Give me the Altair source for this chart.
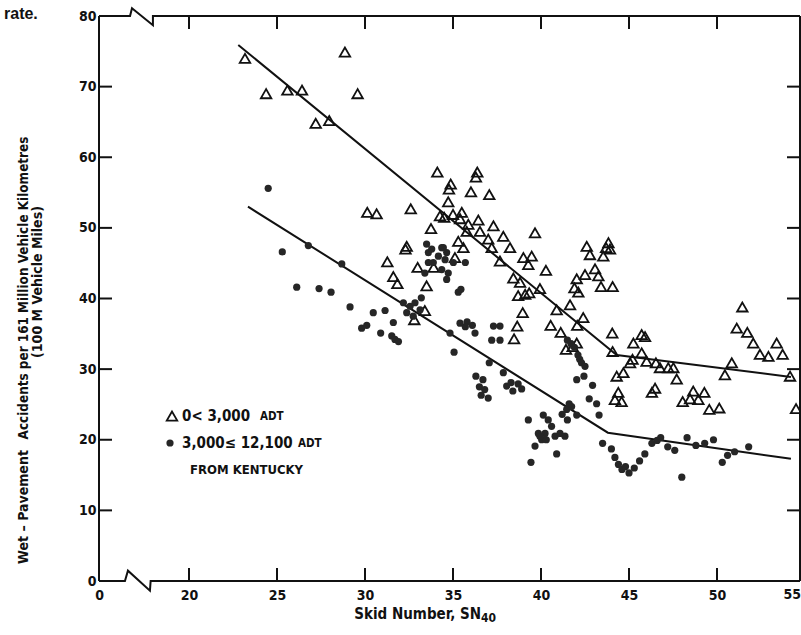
import altair as alt
import pandas as pd

FONT = "DejaVu Sans Condensed, DejaVu Sans, sans-serif"
INK = "#111111"

# Broken x axis: the left edge carries the "0" label, the right edge "55"
X_MIN, X_MAX = 14.886, 54.716
Y_MIN, Y_MAX = 0, 80
X_TICKS = [20, 25, 30, 35, 40, 45, 50]
Y_TICKS = [10, 20, 30, 40, 50, 60, 70]
Y_LABELS = [0, 10, 20, 30, 40, 50, 60, 70, 80]

# 0 < ADT < 3,000 sites (open triangles)
tri_x = [23.18, 28.86, 24.38, 25.59, 26.42, 29.58, 27.2, 27.97,
         34.11, 36.38, 36.3, 34.87, 34.77, 36.02, 37.06,
         30.13, 30.66, 32.6, 34.73, 34.26, 34.5, 35.0, 35.5, 35.4, 35.87, 36.44,
         35.78, 36.53, 37.0, 37.3, 33.75, 35.3, 35.59, 35.11, 32.37, 32.3, 31.27,
         32.99, 33.9, 31.61, 31.84, 33.5, 33.4, 37.2,
         37.86, 38.24, 37.67, 39.66, 39.0, 39.47, 39.28, 40.28, 38.43, 38.81, 38.7,
         39.1, 39.33, 39.94, 38.96, 38.65, 38.47, 40.55, 41.12, 40.89, 41.65, 42.4,
         42.06, 41.42, 41.8, 42.03, 42.6, 42.78, 43.83, 43.7, 43.92, 43.54, 43.07,
         42.5, 42.03, 43.26, 44.07, 43.41, 41.9, 42.12, 44.05, 44.07, 45.25, 45.72,
         45.91, 45.72, 46.0, 45.06, 45.2, 44.68, 44.3, 46.53, 46.76, 47.23, 47.52,
         47.71, 44.39, 44.2, 44.58, 46.48, 46.3, 48.65, 48.05, 48.47, 48.94, 49.28,
         49.56, 50.13, 50.84, 50.45, 51.44, 51.12, 51.72, 52.06, 52.44, 52.92, 53.73,
         53.39, 54.15, 54.49, 32.8]
tri_y = [74.0, 74.9, 69.0, 69.5, 69.5, 69.0, 64.8, 65.2,
         57.9, 57.9, 57.2, 56.2, 55.5, 55.1, 54.7,
         52.2, 52.0, 52.7, 53.7, 51.7, 51.5, 51.9, 52.2, 51.3, 50.5, 51.1,
         49.5, 49.5, 48.4, 50.3, 49.9, 48.1, 47.2, 45.8, 47.4, 47.0, 45.2,
         44.4, 44.4, 43.1, 42.1, 41.8, 38.3, 47.2,
         48.8, 47.2, 45.3, 49.3, 45.8, 46.0, 44.8, 44.0, 42.9, 42.3, 40.4,
         40.6, 40.8, 41.4, 38.0, 36.1, 34.3, 36.2, 35.2, 38.4, 39.1, 37.3,
         36.2, 32.8, 33.2, 33.7, 47.4, 46.2, 47.9, 47.2, 47.0, 46.0, 44.2,
         43.4, 42.8, 43.2, 41.7, 41.7, 41.5, 40.9, 35.1, 32.5, 33.7, 34.9,
         34.6, 32.3, 31.1, 30.9, 31.4, 29.5, 29.0, 30.9, 30.2, 30.2, 30.2,
         28.6, 26.7, 25.7, 25.4, 27.3, 26.7, 26.9, 25.4, 25.8, 25.7, 26.7,
         24.3, 24.5, 30.9, 29.2, 38.8, 35.8, 35.2, 33.7, 32.1, 31.8, 32.1,
         33.7, 29.0, 24.4, 37.0]

# 3,000 <= ADT <= 12,100 sites (filled circles)
dot_x = [24.5, 25.3, 26.78, 28.68, 26.12, 27.39, 28.07, 29.15, 30.47, 31.14,
         33.5, 33.6, 33.79, 34.36, 34.17, 34.55, 33.88, 34.36, 34.73, 33.4, 33.6,
         34.64, 34.45, 34.64, 35.02, 35.7, 35.3, 35.45, 33.2,
         32.18, 32.56, 32.84, 32.37, 32.74, 33.13,
         37.3, 37.67, 37.2, 37.67, 36.25, 35.4, 35.8, 36.1, 35.7, 34.83, 35.06,
         37.06, 37.86, 36.3, 36.7, 36.5, 36.8, 36.6, 37.0,
         38.05, 38.3, 38.7, 38.4, 38.9, 39.28,
         40.13, 40.41, 40.6, 39.85, 40.04, 39.66, 40.3, 40.8, 41.08, 41.36, 40.23,
         39.94, 40.89, 39.43,
         41.46, 41.74, 42.03, 41.2, 41.6, 41.5,
         41.5, 41.7, 41.9, 42.1, 42.2, 42.3, 42.5,
         42.03, 42.44, 42.93, 42.74, 43.16, 43.3,
         31.61, 29.81, 30.1, 30.89, 31.52, 31.7, 31.9,
         43.5, 44.0, 44.2, 44.4, 44.6, 44.8, 45.0, 45.3, 45.6, 45.9, 46.3, 46.6,
         46.8, 47.2, 47.6, 48.0, 48.3, 48.8, 49.3, 49.8, 50.3, 50.6, 51.0, 51.8]
dot_y = [55.6, 46.6, 47.5, 44.9, 41.6, 41.4, 40.9, 38.8, 38.0, 38.3,
         47.7, 46.5, 47.0, 47.2, 46.0, 45.5, 45.1, 44.1, 43.6, 43.6, 45.1,
         46.5, 47.2, 42.7, 45.1, 45.1, 40.9, 41.3, 40.1,
         39.4, 38.9, 39.4, 38.0, 37.5, 38.4,
         36.1, 36.1, 34.1, 34.1, 35.1, 36.5, 36.7, 36.2, 36.0, 35.1, 32.4,
         30.9, 29.5, 29.0, 28.5, 27.5, 27.1, 26.3, 25.9,
         27.6, 28.1, 27.9, 26.9, 27.2, 22.8,
         23.5, 22.8, 21.9, 20.9, 20.0, 19.1, 20.0, 20.5, 20.9, 20.5, 20.9,
         20.5, 18.0, 16.8,
         24.3, 24.7, 23.5, 23.6, 25.1, 22.8,
         34.1, 33.6, 33.1, 32.0, 31.4, 30.9, 30.4,
         28.5, 29.0, 27.7, 25.8, 25.1, 23.5,
         36.6, 35.8, 36.2, 35.1, 34.7, 34.2, 33.9,
         19.5, 18.7, 17.5, 16.5, 15.8, 16.2, 15.3, 16.0, 17.0, 18.0, 19.5, 19.9,
         20.3, 19.0, 18.5, 14.7, 20.3, 19.2, 19.5, 20.0, 16.8, 17.8, 18.3, 19.0]

# Fitted broken-line trends for each traffic group
upper_x = [22.8, 44.3, 54.2]
upper_y = [75.9, 32.0, 28.9]
lower_x = [23.35, 43.8, 54.2]
lower_y = [53.0, 21.0, 17.3]

# Frame with the zig-zag axis breaks between 0 and 20
bottom_x = [X_MIN, 16.36, 16.53, 17.78, 17.82, X_MAX]
bottom_y = [0, 0, 1.46, -1.38, 0, 0]
top_x = [X_MIN, 16.65, 16.76, 17.95, 17.95, X_MAX]
top_y = [80, 80, 81.1, 78.7, 80, 80]
side_x = [X_MIN, X_MIN, X_MAX, X_MAX]
side_y = [0, 80, 0, 80]
side_id = ["left", "left", "right", "right"]

W, H = 701, 565

tri_df = pd.DataFrame({"x": tri_x, "y": tri_y})
dot_df = pd.DataFrame({"x": dot_x, "y": dot_y})
fit_df = pd.DataFrame({
    "x": upper_x + lower_x,
    "y": upper_y + lower_y,
    "grp": ["low"] * len(upper_x) + ["high"] * len(lower_x),
    "o": list(range(len(upper_x))) + list(range(len(lower_x))),
})
frame_df = pd.DataFrame({
    "x": bottom_x + top_x + side_x,
    "y": bottom_y + top_y + side_y,
    "seg": ["bottom"] * len(bottom_x) + ["top"] * len(top_x) + side_id,
    "o": list(range(len(bottom_x))) + list(range(len(top_x))) + [0, 1, 0, 1],
})
xt_df = pd.DataFrame({"x": X_TICKS})
yt_df = pd.DataFrame({"y": Y_TICKS})

label_style = dict(labelFont=FONT, labelFontSize=14, labelFontWeight="bold",
                   labelColor=INK, labelOverlap=False, labelFlush=False,
                   domain=False, ticks=False, grid=False, title=None)
x_axis = alt.Axis(
    values=[X_MIN] + X_TICKS,
    labelExpr="datum.value < 19 ? '0' : datum.label",
    labelPadding=7, **label_style,
)
y_axis = alt.Axis(values=Y_LABELS, labelPadding=3, **label_style)
xs = alt.Scale(domain=[X_MIN, X_MAX], nice=False, zero=False)
ys = alt.Scale(domain=[Y_MIN, Y_MAX], nice=False, zero=False)
X = alt.X("x:Q", scale=xs, axis=x_axis)
Y = alt.Y("y:Q", scale=ys, axis=y_axis)

frame = alt.Chart(frame_df).mark_line(color=INK, strokeWidth=2).encode(
    x=X, y=Y, detail="seg:N", order="o:Q")

ticks_bottom = alt.Chart(xt_df).mark_rule(color=INK, strokeWidth=2).encode(
    x=X, y=alt.value(H), y2=alt.value(H - 13))
ticks_top = alt.Chart(xt_df).mark_rule(color=INK, strokeWidth=2).encode(
    x=X, y=alt.value(0), y2=alt.value(13))
ticks_left = alt.Chart(yt_df).mark_rule(color=INK, strokeWidth=2).encode(
    y=Y, x=alt.value(0), x2=alt.value(13))
ticks_right = alt.Chart(yt_df).mark_rule(color=INK, strokeWidth=2).encode(
    y=Y, x=alt.value(W), x2=alt.value(W - 13))

fits = alt.Chart(fit_df).mark_line(color=INK, strokeWidth=2).encode(
    x=X, y=Y, detail="grp:N", order="o:Q")

tris = alt.Chart(tri_df).mark_point(
    shape="triangle-up", size=110, filled=False, stroke=INK, strokeWidth=1.8,
    opacity=1).encode(x=X, y=Y)
dots = alt.Chart(dot_df).mark_circle(size=52, color="#262626", opacity=1).encode(
    x=X, y=Y)


def label(text, px, py, size=14, align="left", angle=0, font=FONT,
          baseline="middle"):
    return alt.Chart(pd.DataFrame({"t": [text]})).mark_text(
        text=text, font=font, fontSize=size, fontWeight="bold", color=INK,
        align=align, baseline=baseline, angle=angle,
    ).encode(x=alt.value(px), y=alt.value(py))


# Key
key_tri = alt.Chart(pd.DataFrame({"k": [0]})).mark_point(
    shape="triangle-up", size=110, filled=False, stroke=INK, strokeWidth=1.8,
    opacity=1).encode(x=alt.value(73), y=alt.value(400))
key_dot = alt.Chart(pd.DataFrame({"k": [0]})).mark_circle(
    size=52, color="#262626", opacity=1).encode(x=alt.value(71), y=alt.value(427))

texts = [
    label("0< 3,000", 83, 400, 15),
    label("ADT", 161, 401, 11.5),
    label("3,000\u2264 12,100", 83, 427, 15),
    label("ADT", 199, 428, 11.5),
    label("FROM KENTUCKY", 91, 454, 13),
    label("55", W + 1, H + 7, 14, align="right", baseline="top"),
    label("Skid Number, SN", 382, 598, 15, align="right"),
    label("40", 382, 602, 12),
    label("Wet \u2013 Pavement", -75, 491, 14, align="center", angle=270),
    label("Accidents per 161 Million Vehicle Kilometres", -75, 272, 13.4,
          align="center", angle=270),
    label("(100 M Vehicle Miles)", -61, 266, 14, align="center", angle=270),
    label("rate.", -95, 3, 16, font="Liberation Sans, Arial, sans-serif",
          baseline="alphabetic"),
]

chart = alt.layer(
    frame, ticks_bottom, ticks_top, ticks_left, ticks_right, fits, tris, dots,
    key_tri, key_dot, *texts,
).properties(
    width=W, height=H,
    padding={"left": 99, "top": 16, "right": 1, "bottom": 54},
    autosize=alt.AutoSizeParams(type="none"),
).configure(background="white").configure_view(stroke=None)

chart.save("out.html", embed_options={"renderer": "svg", "actions": False})
